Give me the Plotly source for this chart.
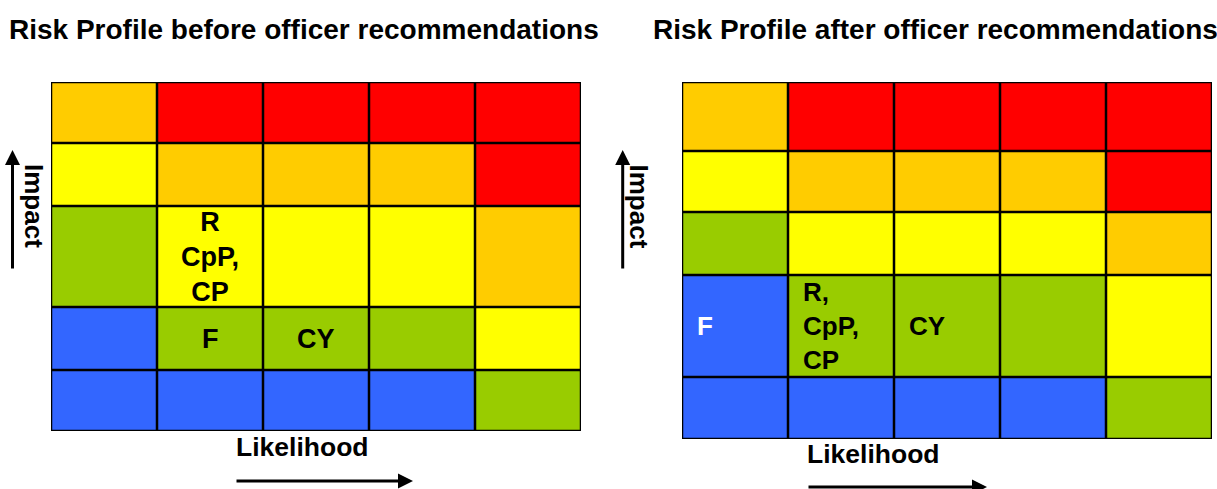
import plotly.graph_objects as go

# ---------------- data ----------------
likelihood = [1, 2, 3, 4, 5]
impact = [1, 2, 3, 4, 5]

# risk level per cell, rows = impact 1..5 (bottom to top), cols = likelihood 1..5
risk_levels_before = [
    [1, 1, 1, 1, 2],
    [1, 2, 2, 2, 3],
    [2, 3, 3, 3, 4],
    [3, 4, 4, 4, 5],
    [4, 5, 5, 5, 5],
]
risk_levels_after = [
    [1, 1, 1, 1, 2],
    [1, 2, 2, 2, 3],
    [2, 3, 3, 3, 4],
    [3, 4, 4, 4, 5],
    [4, 5, 5, 5, 5],
]
level_colors = ["#3366FF", "#99CC00", "#FFFF00", "#FFCC00", "#FF0000"]

risks_before_labels = ["R<br>CpP,<br>CP", "F", "CY"]
risks_before_likelihood = [2, 2, 3]
risks_before_impact = [3, 2, 2]

risks_after_labels = ["F", "R,<br>CpP,<br>CP", "CY"]
risks_after_likelihood = [1, 2, 3]
risks_after_impact = [2, 2, 2]

titles = ["Risk Profile before officer recommendations",
          "Risk Profile after officer recommendations"]
x_label = "Likelihood"
y_label = "Impact"

# ---------------- layout constants ----------------
W, H = 1217, 489
FONT = "Liberation Sans, Arial, sans-serif"


def px(v):
    return v / W


def py(v):
    return 1 - v / H


panels = [
    dict(x0=51, x1=581, top=82, bottom=431, rows=[61, 63, 101, 63, 61],
         levels=risk_levels_before, labels=risks_before_labels,
         lk=risks_before_likelihood, im=risks_before_impact, align="center",
         title_x=304, ylab_x=34, yarrow_x=12.5, xlab=(302, 447), xarrow=(235, 413, 481)),
    dict(x0=682, x1=1212, top=82, bottom=439, rows=[62, 102, 63, 61, 69],
         levels=risk_levels_after, labels=risks_after_labels,
         lk=risks_after_likelihood, im=risks_after_impact, align="left",
         title_x=935, ylab_x=638.5, yarrow_x=622.7, xlab=(874, 454), xarrow=(807, 987, 487)),
]

n = len(level_colors)
colorscale = []
for i, c in enumerate(level_colors):
    colorscale.append([i / n, c])
    colorscale.append([(i + 1) / n, c])

fig = go.Figure()
annotations = []
shapes = []

for k, p in enumerate(panels):
    xa = "x" if k == 0 else "x2"
    ya = "y" if k == 0 else "y2"
    x_edges = [l - 0.5 for l in likelihood] + [likelihood[-1] + 0.5]
    y_edges = [0]
    for h in p["rows"]:
        y_edges.append(y_edges[-1] + h)

    fig.add_trace(go.Heatmap(
        z=p["levels"], x=x_edges, y=y_edges,
        colorscale=colorscale, zmin=0.5, zmax=n + 0.5,
        showscale=False, hoverinfo="skip", xaxis=xa, yaxis=ya,
    ))

    # grid lines
    for xe in x_edges:
        shapes.append(dict(type="line", xref=xa, yref=ya, x0=xe, x1=xe,
                           y0=y_edges[0], y1=y_edges[-1],
                           line=dict(color="black", width=2.5)))
    for ye in y_edges:
        shapes.append(dict(type="line", xref=xa, yref=ya, x0=x_edges[0], x1=x_edges[-1],
                           y0=ye, y1=ye, line=dict(color="black", width=2.5)))

    # cell labels
    for lab, l, i in zip(p["labels"], p["lk"], p["im"]):
        level = p["levels"][i - 1][l - 1]
        color = "white" if level == 1 else "black"
        yc = (y_edges[i - 1] + y_edges[i]) / 2
        txt = "<b>" + lab.replace("<br>", "</b><br><b>") + "</b>"
        if p["align"] == "center":
            annotations.append(dict(x=l, y=yc, xref=xa, yref=ya, text=txt,
                                    showarrow=False, align="center",
                                    font=dict(family=FONT, size=27, color=color)))
        else:
            annotations.append(dict(x=l - 0.5, y=yc, xref=xa, yref=ya, text=txt,
                                    showarrow=False, align="left", xanchor="left",
                                    xshift=13,
                                    font=dict(family=FONT, size=26, color=color)))

    # axis domains
    dom_x = [px(p["x0"]), px(p["x1"])]
    dom_y = [py(p["bottom"]), py(p["top"])]
    axx = dict(domain=dom_x, range=[x_edges[0], x_edges[-1]], visible=False,
               showgrid=False, zeroline=False, fixedrange=True)
    axy = dict(domain=dom_y, range=[y_edges[0], y_edges[-1]], visible=False,
               showgrid=False, zeroline=False, fixedrange=True)
    if k == 0:
        fig.update_layout(xaxis=axx, yaxis=dict(axy, anchor="x"))
    else:
        fig.update_layout(xaxis2=dict(axx, anchor="y2"), yaxis2=dict(axy, anchor="x2"))

    # title
    annotations.append(dict(x=px(p["title_x"]), y=py(30), xref="paper", yref="paper",
                            text="<b>" + titles[k] + "</b>", showarrow=False,
                            xanchor="center", yanchor="middle",
                            font=dict(family=FONT, size=28, color="black")))
    # Impact label + arrow
    annotations.append(dict(x=px(p["ylab_x"]), y=py(206), xref="paper", yref="paper",
                            text="<b>" + y_label + "</b>", showarrow=False, textangle=90,
                            xanchor="center", yanchor="middle",
                            font=dict(family=FONT, size=26, color="black")))
    annotations.append(dict(x=px(p["yarrow_x"]), y=py(150), xref="paper", yref="paper",
                            text="", showarrow=True, ax=0, ay=120, arrowhead=2,
                            arrowwidth=3, arrowsize=1, arrowcolor="black",
                            standoff=0, startstandoff=0))
    # Likelihood label + arrow
    annotations.append(dict(x=px(p["xlab"][0]), y=py(p["xlab"][1]), xref="paper",
                            yref="paper", text="<b>" + x_label + "</b>", showarrow=False,
                            xanchor="center", yanchor="middle",
                            font=dict(family=FONT, size=26.5, color="black")))
    xa0, xa1, yy = p["xarrow"]
    annotations.append(dict(x=px(xa1), y=py(yy), xref="paper", yref="paper",
                            text="", showarrow=True, ax=-(xa1 - xa0), ay=0, arrowhead=2,
                            arrowwidth=3, arrowsize=1, arrowcolor="black",
                            standoff=0, startstandoff=0))

fig.update_layout(
    width=W, height=H, margin=dict(l=0, r=0, t=0, b=0),
    paper_bgcolor="white", plot_bgcolor="white",
    showlegend=False, annotations=annotations, shapes=shapes,
    font=dict(family=FONT),
)

fig.write_html(
    "out.html",
    config={"displayModeBar": False, "staticPlot": True},
    post_script="document.body.style.margin='0';document.body.style.overflow='hidden';",
)
